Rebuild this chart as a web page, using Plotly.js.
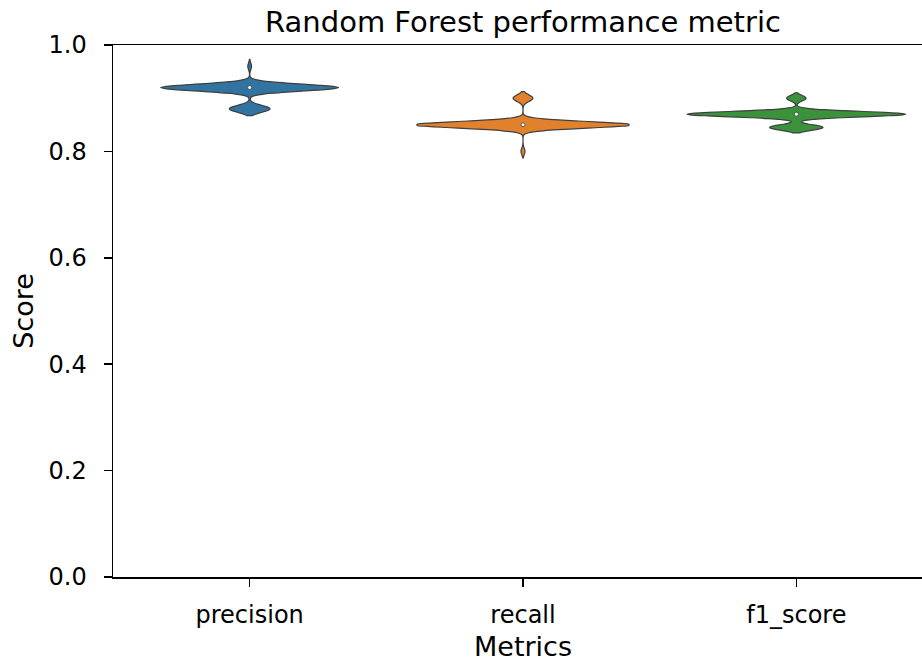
<!DOCTYPE html>
<html>
<head>
<meta charset="utf-8">
<script src="https://cdn.plot.ly/plotly-3.0.1.min.js"></script>
<style>
  html, body { margin: 0; padding: 0; overflow: hidden; background: #ffffff; }
  #chart { width: 940px; height: 662px; }
</style>
</head>
<body>
<div id="chart"></div>
<script>
// ---- data ----
const categories = ["precision", "recall", "f1_score"];

const precisionScores = [
  0.92, 0.92, 0.92, 0.92, 0.92, 0.92, 0.92, 0.92, 0.92, 0.92,
  0.92, 0.92, 0.92, 0.92, 0.92, 0.92, 0.92, 0.92, 0.92, 0.92,
  0.92, 0.92, 0.92, 0.92, 0.92, 0.92, 0.92, 0.92, 0.92, 0.92,
  0.92, 0.92, 0.92, 0.92, 0.92, 0.92, 0.92, 0.92, 0.92, 0.92,
  0.92, 0.92, 0.92, 0.92, 0.92, 0.92, 0.92, 0.92,
  0.88, 0.88, 0.88, 0.88, 0.88, 0.88, 0.88, 0.88, 0.88, 0.88, 0.88,
  0.96
];

const recallScores = [
  0.85, 0.85, 0.85, 0.85, 0.85, 0.85, 0.85, 0.85, 0.85, 0.85,
  0.85, 0.85, 0.85, 0.85, 0.85, 0.85, 0.85, 0.85, 0.85, 0.85,
  0.85, 0.85, 0.85, 0.85, 0.85, 0.85, 0.85, 0.85, 0.85, 0.85,
  0.85, 0.85, 0.85, 0.85, 0.85, 0.85, 0.85, 0.85, 0.85, 0.85,
  0.85, 0.85, 0.85, 0.85, 0.85, 0.85, 0.85, 0.85, 0.85, 0.85,
  0.85, 0.85, 0.85, 0.85,
  0.90, 0.90, 0.90, 0.90, 0.90,
  0.80
];

const f1Scores = [
  0.87, 0.87, 0.87, 0.87, 0.87, 0.87, 0.87, 0.87, 0.87, 0.87,
  0.87, 0.87, 0.87, 0.87, 0.87, 0.87, 0.87, 0.87, 0.87, 0.87,
  0.87, 0.87, 0.87, 0.87, 0.87, 0.87, 0.87, 0.87, 0.87, 0.87,
  0.87, 0.87, 0.87, 0.87, 0.87, 0.87, 0.87, 0.87, 0.87, 0.87,
  0.87, 0.87, 0.87, 0.87, 0.87,
  0.90, 0.90, 0.90, 0.90,
  0.845, 0.845, 0.845, 0.845, 0.845, 0.845, 0.845, 0.845, 0.845, 0.845, 0.845
];

const seriesScores = [precisionScores, recallScores, f1Scores];

// ---- styles ----
const fillColors = ["#3274a1", "#e1812c", "#3a923a"];
const violinWidths = [0.651, 0.775, 0.8];     // max widths in category units
const kdeBandwidths = [0.0064, 0.0062, 0.0051]; // KDE smoothing
const edgeColor = "#3f3f3f";
const FONT = "DejaVu Sans, Liberation Sans, sans-serif";

function median(arr) {
  const s = arr.slice().sort((a, b) => a - b);
  const m = Math.floor(s.length / 2);
  return s.length % 2 ? s[m] : (s[m - 1] + s[m]) / 2;
}

const traces = categories.map((cat, i) => ({
  type: "violin",
  x0: cat,
  y: seriesScores[i],
  name: cat,
  width: violinWidths[i],
  scalemode: "width",
  bandwidth: kdeBandwidths[i],
  spanmode: "soft",
  points: false,
  box: { visible: false },
  meanline: { visible: false },
  fillcolor: fillColors[i],
  opacity: 1,
  line: { color: edgeColor, width: 1.2 },
  hoverinfo: "skip",
  showlegend: false
}));

traces.push({
  type: "scatter",
  mode: "markers",
  x: categories,
  y: seriesScores.map(median),
  marker: { color: "#ffffff", size: 4, line: { color: edgeColor, width: 0.8 } },
  hoverinfo: "skip",
  showlegend: false
});

const axisCommon = {
  showline: true,
  linecolor: "#000000",
  linewidth: 1.5,
  mirror: true,
  ticks: "outside",
  ticklen: 8,
  tickwidth: 1.5,
  tickcolor: "#000000",
  showgrid: false,
  zeroline: false,
  tickfont: { family: FONT, size: 24, color: "#000000" }
};

const layout = {
  width: 940,
  height: 662,
  margin: { l: 113, r: 7, t: 45, b: 85 },
  paper_bgcolor: "#ffffff",
  plot_bgcolor: "#ffffff",
  violinmode: "overlay",
  font: { family: FONT, color: "#000000" },
  title: {
    text: "Random Forest performance metric",
    font: { family: FONT, size: 29, color: "#000000" },
    x: 0.5, xref: "paper", xanchor: "center",
    y: 1 - 22 / 662, yref: "container", yanchor: "middle"
  },
  xaxis: Object.assign({}, axisCommon, {
    type: "category",
    categoryorder: "array",
    categoryarray: categories,
    range: [-0.5, 2.5],
    ticklabelstandoff: 8,
    title: { text: "Metrics", font: { family: FONT, size: 27, color: "#000000" }, standoff: 10 }
  }),
  yaxis: Object.assign({}, axisCommon, {
    range: [0, 1],
    tick0: 0,
    dtick: 0.2,
    tickformat: ".1f",
    ticklabelstandoff: 12,
    title: { text: "Score", font: { family: FONT, size: 27, color: "#000000" }, standoff: 7 }
  })
};

Plotly.newPlot("chart", traces, layout, { displayModeBar: false, staticPlot: true });
</script>
</body>
</html>
